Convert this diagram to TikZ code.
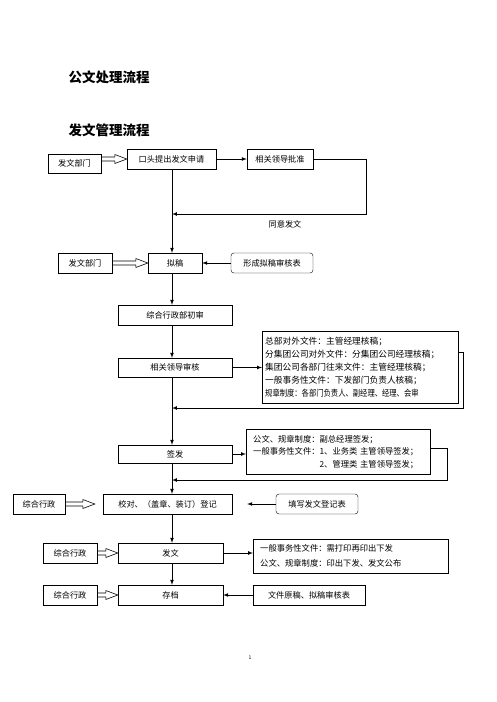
\documentclass[tikz,border=0pt]{standalone}
\usepackage{fontspec}
\usepackage{graphicx}
\setmainfont{Noto Sans CJK SC}
\usetikzlibrary{arrows}
\usetikzlibrary{calc}
\tikzset{
     box/.style={draw, rectangle, inner sep=0pt, minimum height=20pt,
          font=\fontsize{8.2}{10}\selectfont},
     rbox/.style={box, rounded corners=3pt},
     note/.style={draw, rectangle, inner xsep=#1, inner ysep=0pt,
          align=left, anchor=north west},
     link/.style={->, line width=0.7pt},
     title/.style={anchor=west, font=\fontsize{13.5}{16}\selectfont\bfseries},
}
\tikzset{>=latex}
\def\ax{172}

% hollow arrow: from node #2 to node #3, stopping #1 before it
\newcommand\openarrow[3][0]{%
  \path (#2.east |- #3.west) coordinate (oa-s) ($(#3.west)+(-#1,0)$) coordinate (oa-e);
  \draw[line width=0.6pt] ($(oa-s)+(0,-2)$) -- ($(oa-e)+(-12,-2)$) -- ($(oa-e)+(-12,-4.5)$)
     -- (oa-e) -- ($(oa-e)+(-12,4.5)$) -- ($(oa-e)+(-12,2)$) -- ($(oa-s)+(0,2)$);
}

\begin{document}
\begin{tikzpicture}[x=1pt, y=-1pt]
  \useasboundingbox (0,0) rectangle (496,702);

  \node[title] (t1) at (65,77) {公文处理流程};
  \node[title] (t2) at (65,130) {发文管理流程};

  \coordinate (axis) at (\ax,0);

  % main column
  \node[box, minimum width=89pt] (kt) at (171.5,159) {口头提出发文申请};
  \node[box, minimum width=54pt] (ng) at (175,263) {拟稿};
  \node[box, minimum width=114pt] (cs) at (175,315) {综合行政部初审};
  \node[box, minimum width=114pt, minimum height=19pt] (sh) at (175,367.5) {相关领导审核};
  \node[box, minimum width=114pt, minimum height=18pt] (qf) at (175,454) {签发};
  \node[box, minimum width=129pt] (jd) at (167.5,504) {校对、（盖章、装订）登记};
  \node[box, minimum width=105pt] (fw) at (170.5,553) {发文};
  \node[box, minimum width=105pt] (cd) at (170.5,595) {存档};

  % left column
  \node[box, minimum width=53pt, minimum height=19pt] (fw1) at (74.5,163.5) {发文部门};
  \node[box, minimum width=54pt] (fw2) at (85,263) {发文部门};
  \node[box, minimum width=52pt] (zh1) at (39,504) {综合行政};
  \node[box, minimum width=54pt] (zh2) at (70,553) {综合行政};
  \node[box, minimum width=54pt] (zh3) at (70,595) {综合行政};

  % right column
  \node[box, minimum width=66pt] (pz) at (280,159) {相关领导批准};
  \node[rbox, minimum width=82pt] (xc) at (272,263) {形成拟稿审核表};
  \node[rbox, minimum width=82pt] (tx) at (317,504) {填写发文登记表};
  \node[box, minimum width=112pt] (yg) at (309,595) {文件原稿、拟稿审核表};

  \node[note=3pt, text width=190pt, minimum height=72pt,
        font=\fontsize{8.7}{13}\selectfont] (hg) at (262,331)
     {总部对外文件：主管经理核稿；\\
      分集团公司对外文件：分集团公司经理核稿；\\
      集团公司各部门往来文件：主管经理核稿；\\
      一般事务性文件：下发部门负责人核稿；\\
      \scalebox{0.84}[1]{规章制度：各部门负责人、副经理、经理、会审}};
  \node[note=7pt, text width=170pt, minimum height=45pt,
        font=\fontsize{8.3}{12.5}\selectfont] (qs) at (246,429)
     {公文、规章制度：副总经理签发；\\
      一般事务性文件：1、业务类 主管领导签发；\\
      \phantom{一般事务性文件：}2、管理类 主管领导签发；};
  \node[note=7pt, text width=181pt, minimum height=34pt,
        font=\fontsize{8.3}{15}\selectfont] (fb) at (253,539)
     {一般事务性文件：需打印再印出下发\\
      公文、规章制度：印出下发、发文公布};

  \node[font=\fontsize{8.2}{10}\selectfont] (ty) at (285,224) {同意发文};
  \node[font=\fontsize{5}{6}\selectfont] (pg) at (250,658) {1};

  % down the main column
  \foreach \a/\b in {kt/ng, ng/cs, cs/sh, sh/qf, qf/jd, jd/fw, fw/cd}{
     \draw[link] (\a.south -| axis) -- (\b.north -| axis);
  }

  % hollow arrows
  \foreach \a/\b/\g in {fw1/kt/0, fw2/ng/0, zh1/jd/8, zh2/fw/0, zh3/cd/0}{
     \openarrow[\g]{\a}{\b}
  }

  \draw[link] (kt.east) -- (pz.west);
  \draw[link] (xc.west) -- (ng.east);
  \draw[link] (sh.east) -- (sh.east -| hg.west);
  \draw[link] (qf.east) -- (qf.east -| qs.west);
  \draw[link] (tx.west) -- ($(jd.east)+(15,0)$);
  \draw[link] (fw.east) -- (fw.east -| fb.west);
  \draw[link] (yg.west) -- (cd.east);

  % loops back to the main column
  \coordinate (r1) at (366,214);
  \coordinate (r2) at (463,408);
  \coordinate (r3) at (447,480);
  \draw[link] (pz.east) -| (r1) -- (r1 -| axis);
  \draw[link] ($(hg.north east)+(0,21)$) -| (r2) -- (r2 -| axis);
  \draw[link] ($(qs.north east)+(0,19)$) -| (r3) -- (r3 -| axis);

\end{tikzpicture}
\end{document}
